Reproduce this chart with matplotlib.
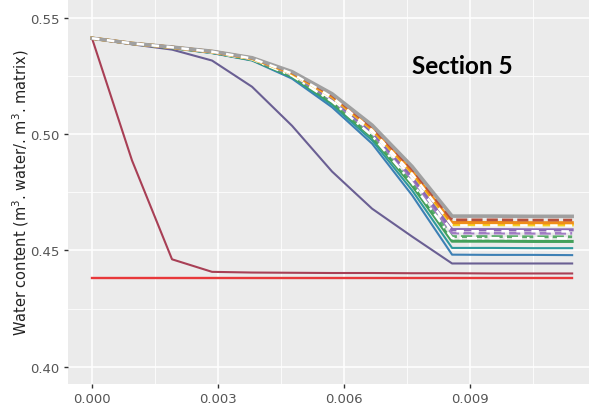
import matplotlib
matplotlib.use("Agg")
import matplotlib.pyplot as plt
from matplotlib.ticker import MultipleLocator

# ---- data ----
x = [0.0, 0.000952, 0.001905, 0.002857, 0.003810, 0.004762, 0.005714,
     0.006667, 0.007619, 0.008571, 0.009524, 0.010476, 0.011429]

grey      = [0.5414, 0.5392, 0.5376, 0.5358, 0.5330, 0.5270, 0.5175, 0.5040, 0.4862, 0.4648, 0.4648, 0.4647, 0.4647]
red_dash  = [0.5414, 0.5392, 0.5376, 0.5357, 0.5329, 0.5267, 0.5169, 0.5032, 0.4850, 0.4632, 0.4632, 0.4631, 0.4631]
orange    = [0.5414, 0.5392, 0.5375, 0.5357, 0.5328, 0.5265, 0.5165, 0.5026, 0.4841, 0.4620, 0.4620, 0.4619, 0.4619]
yellow    = [0.5414, 0.5392, 0.5375, 0.5356, 0.5327, 0.5263, 0.5162, 0.5022, 0.4835, 0.4612, 0.4612, 0.4611, 0.4611]
white_a   = [0.5414, 0.5392, 0.5375, 0.5356, 0.5327, 0.5262, 0.5160, 0.5018, 0.4830, 0.4608, 0.4608, 0.4608, 0.4607]
purple    = [0.5414, 0.5391, 0.5375, 0.5355, 0.5326, 0.5260, 0.5155, 0.5012, 0.4819, 0.4590, 0.4590, 0.4589, 0.4589]
white_b   = [0.5414, 0.5391, 0.5374, 0.5355, 0.5325, 0.5258, 0.5152, 0.5009, 0.4814, 0.4583, 0.4583, 0.4583, 0.4582]
purple_d  = [0.5414, 0.5391, 0.5374, 0.5354, 0.5325, 0.5257, 0.5149, 0.5005, 0.4807, 0.4575, 0.4575, 0.4574, 0.4574]
green_d   = [0.5414, 0.5391, 0.5374, 0.5354, 0.5324, 0.5254, 0.5144, 0.4998, 0.4796, 0.4560, 0.4560, 0.4559, 0.4559]
white_c   = [0.5414, 0.5391, 0.5374, 0.5353, 0.5323, 0.5253, 0.5142, 0.4994, 0.4791, 0.4553, 0.4553, 0.4553, 0.4552]
green     = [0.5414, 0.5391, 0.5373, 0.5353, 0.5322, 0.5250, 0.5137, 0.4988, 0.4781, 0.4540, 0.4540, 0.4539, 0.4539]
teal      = [0.5414, 0.5390, 0.5373, 0.5351, 0.5320, 0.5245, 0.5127, 0.4974, 0.4759, 0.4511, 0.4511, 0.4510, 0.4510]
blue      = [0.5414, 0.5390, 0.5372, 0.5350, 0.5318, 0.5240, 0.5117, 0.4960, 0.4738, 0.4482, 0.4481, 0.4481, 0.4480]
slate     = [0.5414, 0.5388, 0.5365, 0.5318, 0.5205, 0.5037, 0.4840, 0.4680, 0.4560, 0.4444, 0.4444, 0.4444, 0.4444]
maroon    = [0.5414, 0.4888, 0.4462, 0.4408, 0.4405, 0.4404, 0.4403, 0.4403, 0.4402, 0.4402, 0.4401, 0.4401, 0.4401]
red_flat  = [0.4380, 0.4380, 0.4380, 0.4380, 0.4380, 0.4380, 0.4380, 0.4380, 0.4380, 0.4380, 0.4380, 0.4380, 0.4380]

x_ticks = [0.000, 0.003, 0.006, 0.009]
x_tick_labels = ["0.000", "0.003", "0.006", "0.009"]
y_ticks = [0.40, 0.45, 0.50, 0.55]
y_tick_labels = ["0.40", "0.45", "0.50", "0.55"]
title_text = "Section 5"
y_label = r"Water content (m$^3$. water/. m$^3$. matrix)"

# ---- figure ----
W, H = 589, 410
AXL, AXR, AXB = 68, 589, 385
fig = plt.figure(figsize=(W / 100, H / 100), dpi=100)
ax = fig.add_axes([AXL / W, 1 - AXB / H, (AXR - AXL) / W, AXB / H])
ax.set_facecolor("#ebebeb")
for s in ax.spines.values():
    s.set_visible(False)

ax.set_xlim(-0.000571, 0.01183)
ax.set_ylim(0.3925, 0.5583)
ax.xaxis.set_minor_locator(MultipleLocator(0.0015))
ax.yaxis.set_minor_locator(MultipleLocator(0.025))
ax.grid(which="major", color="white", lw=1.1, zorder=0)
ax.grid(which="minor", color="white", lw=0.55, zorder=0)
ax.set_axisbelow(True)

ax.set_xticks(x_ticks)
ax.set_xticklabels(x_tick_labels)
ax.set_yticks(y_ticks)
ax.set_yticklabels(y_tick_labels)
ax.tick_params(which="major", length=3, width=1, color="#333333",
               labelcolor="#555555", labelsize=9.5, pad=3)
ax.tick_params(which="minor", length=0)

lw = 1.5
ax.plot(x, red_flat, color="#e8383a", lw=1.7, zorder=3)
ax.plot(x, maroon, color="#a83f55", lw=lw, zorder=3)
ax.plot(x, slate, color="#6a5f93", lw=lw, zorder=3)
ax.plot(x, blue, color="#3d80b5", lw=lw, zorder=3)
ax.plot(x, teal, color="#2e9a9c", lw=lw, zorder=3)
ax.plot(x, green, color="#43a05a", lw=2.2, zorder=3)
ax.plot(x, white_c, color="white", lw=1.8, ls=(0, (4, 2, 1, 2)), zorder=4)
ax.plot(x, green_d, color="#5aab6a", lw=2.0, ls=(0, (4, 1.5)), zorder=3)
ax.plot(x, purple_d, color="#a17cc4", lw=2.0, ls=(0, (4, 1.5)), zorder=3)
ax.plot(x, white_b, color="white", lw=1.8, ls=(0, (3, 3)), zorder=4)
ax.plot(x, purple, color="#8b68b4", lw=2.2, zorder=3)
ax.plot(x, white_a, color="white", lw=1.8, ls=(0, (3, 3)), zorder=5)
ax.plot(x, yellow, color="#f7d21e", lw=2.4, zorder=4)
ax.plot(x, orange, color="#f08c1a", lw=2.4, zorder=4)
ax.plot(x, red_dash, color="#b8503c", lw=2.0, ls=(0, (4, 1.5)), zorder=4)
ax.plot(x, grey, color="#a0a0a0", lw=2.6, zorder=4)

ax.set_ylabel(y_label, fontsize=10.5, color="#222222")
ax.yaxis.set_label_coords((31 - AXL) / (AXR - AXL), 0.5)

fig.text(462 / W, 1 - 66 / H, title_text, fontsize=17.5, fontweight="bold",
         family=["Lato", "DejaVu Sans"], ha="center", va="center", color="black")

fig.savefig("out.png", dpi=100, facecolor="white")
